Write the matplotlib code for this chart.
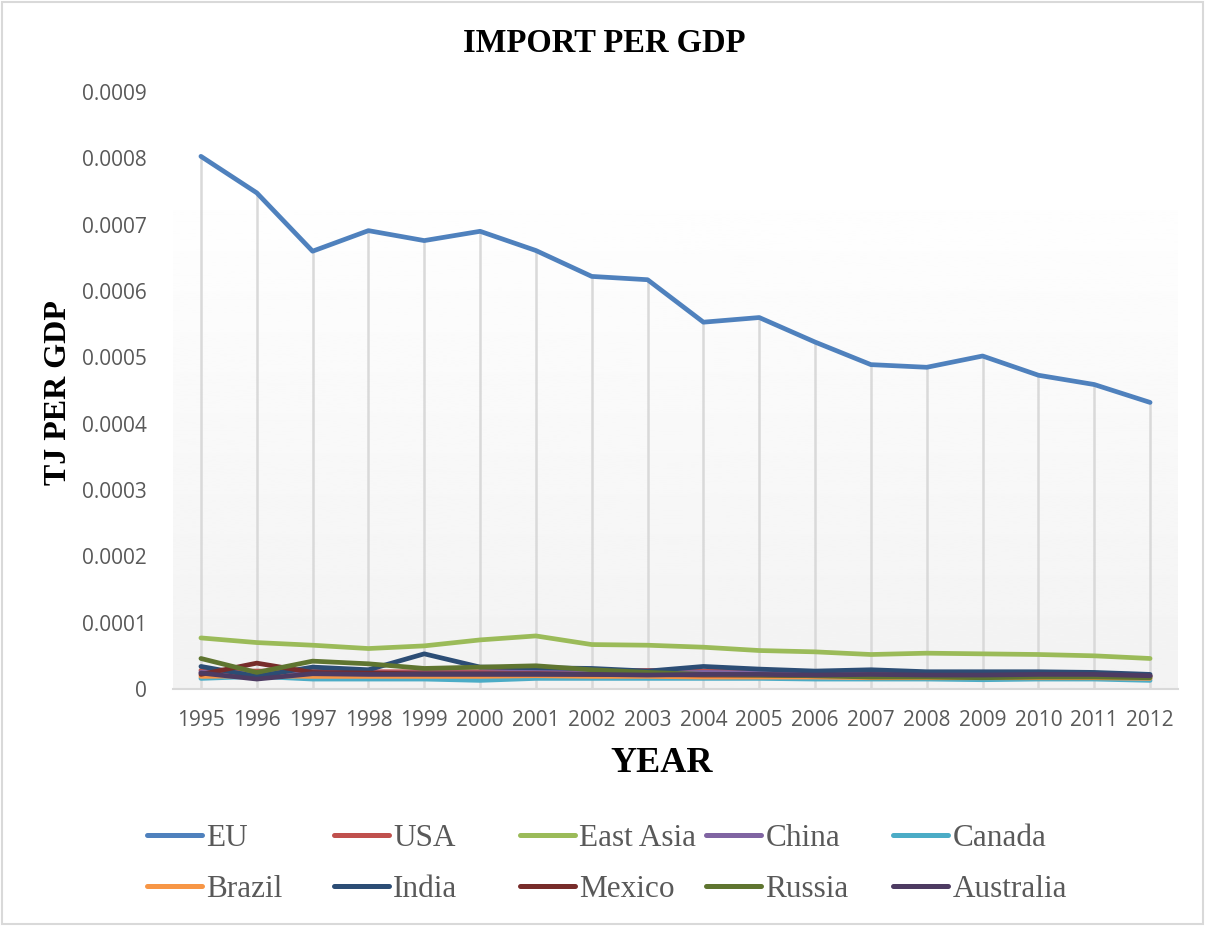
import matplotlib.pyplot as plt
import numpy as np
from matplotlib.lines import Line2D
from matplotlib.patches import Rectangle

years = ['1995', '1996', '1997', '1998', '1999', '2000', '2001', '2002', '2003',
         '2004', '2005', '2006', '2007', '2008', '2009', '2010', '2011', '2012']

eu = [8.03, 7.48, 6.60, 6.91, 6.76, 6.90, 6.61, 6.22, 6.17, 5.53, 5.60, 5.23,
      4.89, 4.85, 5.02, 4.73, 4.59, 4.32]
usa = [2.8, 2.7, 2.7, 2.6, 2.6, 2.6, 2.7, 2.7, 2.8, 2.7, 2.7, 2.5, 2.4, 2.4, 2.3, 2.3, 2.2, 2.0]
east_asia = [7.7, 7.0, 6.6, 6.1, 6.5, 7.4, 8.0, 6.7, 6.6, 6.3, 5.8, 5.6, 5.2, 5.4, 5.3, 5.2, 5.0, 4.6]
china = [2.5, 2.3, 2.5, 2.4, 2.4, 2.4, 2.6, 2.5, 2.4, 2.5, 2.4, 2.3, 2.2, 2.1, 2.1, 2.1, 2.0, 1.9]
canada = [1.6, 1.9, 1.5, 1.5, 1.5, 1.3, 1.6, 1.6, 1.6, 1.6, 1.6, 1.5, 1.5, 1.5, 1.4, 1.5, 1.5, 1.3]
brazil = [1.9, 2.0, 1.9, 1.9, 1.9, 1.9, 2.0, 1.9, 1.9, 1.8, 1.8, 1.8, 1.7, 1.7, 1.7, 1.7, 1.7, 1.6]
india = [3.4, 1.9, 3.3, 2.9, 5.3, 3.3, 3.2, 3.1, 2.7, 3.4, 3.0, 2.7, 2.9, 2.6, 2.6, 2.6, 2.5, 2.2]
mexico = [2.2, 3.9, 2.5, 2.4, 2.3, 2.3, 2.3, 2.2, 2.2, 2.1, 2.1, 2.0, 2.0, 2.0, 2.0, 2.0, 2.0, 1.9]
russia = [4.6, 2.5, 4.2, 3.8, 3.1, 3.3, 3.5, 2.9, 2.5, 2.2, 2.1, 2.0, 1.8, 1.8, 1.7, 1.8, 1.8, 1.7]
australia = [2.4, 1.5, 2.3, 2.2, 2.2, 2.2, 2.2, 2.2, 2.1, 2.2, 2.2, 2.1, 2.2, 2.1, 2.1, 2.2, 2.2, 2.0]

series = [
    ('EU', np.array(eu) * 1e-4, '#4F81BD'),
    ('USA', np.array(usa) * 1e-5, '#C0504D'),
    ('East Asia', np.array(east_asia) * 1e-5, '#9BBB59'),
    ('China', np.array(china) * 1e-5, '#8064A2'),
    ('Canada', np.array(canada) * 1e-5, '#4BACC6'),
    ('Brazil', np.array(brazil) * 1e-5, '#F79646'),
    ('India', np.array(india) * 1e-5, '#2C4D75'),
    ('Mexico', np.array(mexico) * 1e-5, '#772C2A'),
    ('Russia', np.array(russia) * 1e-5, '#5F7530'),
    ('Australia', np.array(australia) * 1e-5, '#4D3B62'),
]

serif = 'Liberation Serif'
grey = '#595959'

fig = plt.figure(figsize=(12.05, 9.26), dpi=100)
fig.patches.append(Rectangle((0.002, 0.002), 0.996, 0.996, transform=fig.transFigure,
                             fill=False, edgecolor='#d9d9d9', linewidth=1.5))

ax = fig.add_axes([173 / 1205, 1 - 689 / 926, 1005 / 1205, 597 / 926])
x = np.arange(len(years))
ax.set_xlim(-0.5, len(years) - 0.5)
ax.set_ylim(0, 0.0009)

# plot area gradient: white at top to light grey at bottom
grad = np.linspace(1.0, 0.95, 256).reshape(-1, 1)
ax.imshow(grad, extent=(-0.5, len(years) - 0.5, 0, 0.00078), aspect='auto',
          cmap='gray', vmin=0, vmax=1, zorder=0, origin='upper')
ax.set_facecolor('white')

# drop lines
top = np.max([s[1] for s in series], axis=0)
ax.vlines(x, 0, top, colors='#d9d9d9', linewidth=1.8, zorder=1)

handles = {}
for name, vals, col in series:
    ax.plot(x, vals, color=col, linewidth=3.4, solid_capstyle='round',
            solid_joinstyle='round', zorder=3)
    handles[name] = Line2D([], [], color=col, linewidth=3.6, solid_capstyle='round')

for s in ['top', 'right', 'left']:
    ax.spines[s].set_visible(False)
ax.spines['bottom'].set_color('#d9d9d9')
ax.spines['bottom'].set_linewidth(1.5)

ax.set_xticks(x)
ax.set_xticklabels(years)
yt = np.arange(0, 10) * 1e-4
ax.set_yticks(yt)
ax.set_yticklabels(['0'] + ['0.000%d' % i for i in range(1, 10)])
ax.tick_params(axis='both', length=0, labelsize=15, labelcolor=grey)
ax.tick_params(axis='y', pad=19)
ax.tick_params(axis='x', pad=15)
for lab in ax.get_xticklabels() + ax.get_yticklabels():
    lab.set_fontfamily('Open Sans')

fig.text(604 / 1205, 1 - 44 / 926, 'IMPORT PER GDP', ha='center', va='center',
         fontsize=23.5, fontweight='bold', family=serif, color='black')
fig.text(58 / 1205, 1 - 393 / 926, 'TJ PER GDP', ha='center', va='center', rotation=90,
         fontsize=23, fontweight='bold', family=serif, color='black')
fig.text(662 / 1205, 1 - 763 / 926, 'YEAR', ha='center', va='center',
         fontsize=26, fontweight='bold', family=serif, color='black')

# legend: five columns, two rows
cols = [('EU', 'Brazil'), ('USA', 'India'), ('East Asia', 'Mexico'),
        ('China', 'Russia'), ('Canada', 'Australia')]
col_x = [147, 334, 520, 706, 893]
for (a, b), cx in zip(cols, col_x):
    fig.legend([handles[a], handles[b]], [a, b], loc='center left',
               bbox_to_anchor=(cx / 1205, 1 - 864 / 926), frameon=False,
               borderpad=0, borderaxespad=0, handlelength=1.75, handletextpad=0.15,
               labelspacing=0.68, prop={'family': serif, 'size': 22.5}, labelcolor=grey)

fig.savefig('out.png', dpi=100)
